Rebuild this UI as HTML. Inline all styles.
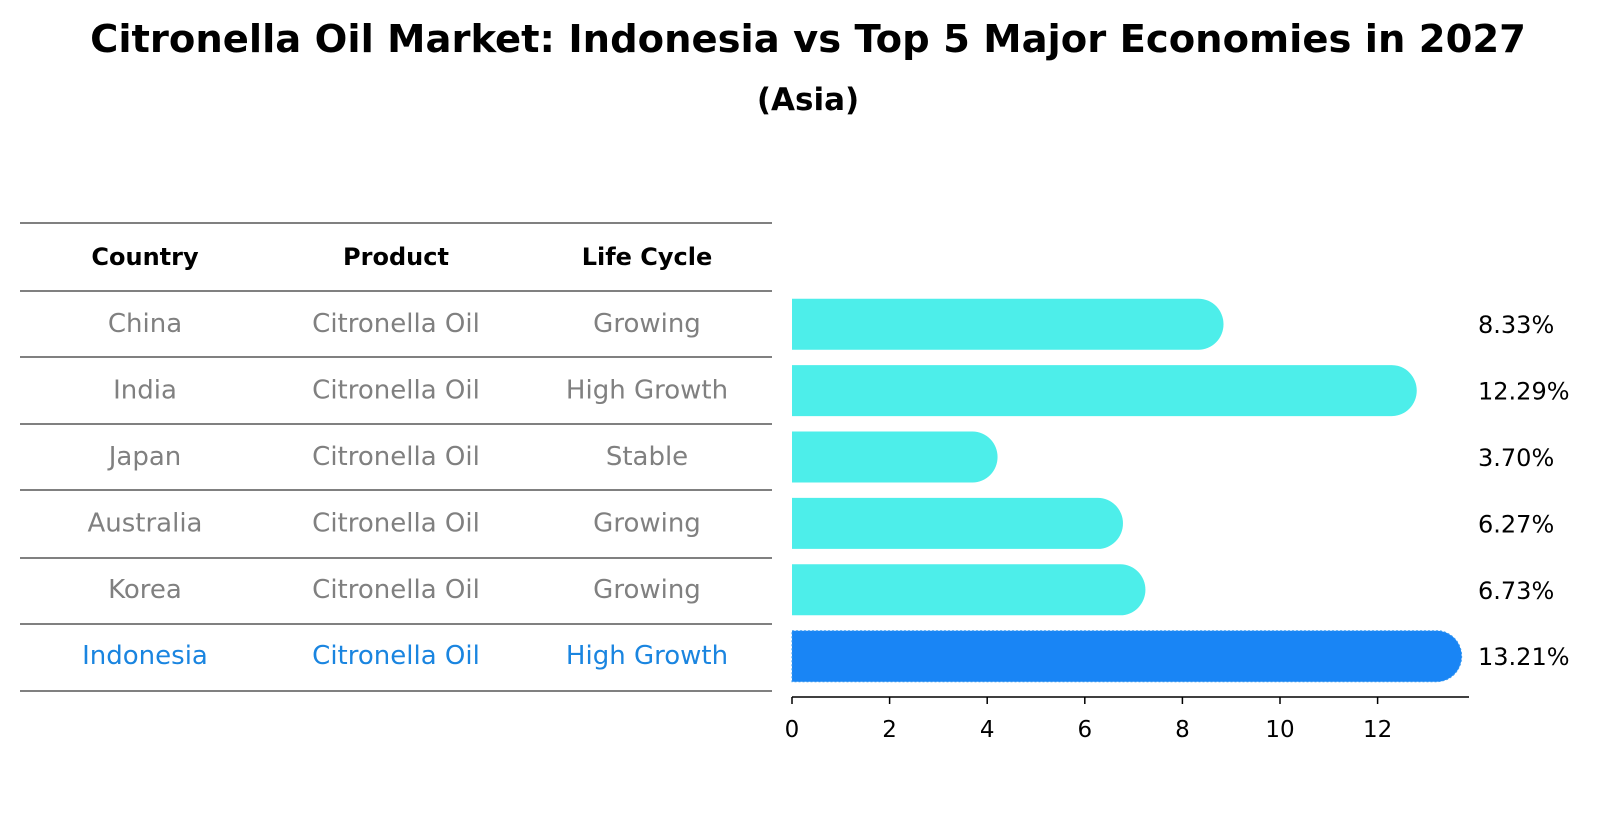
<!DOCTYPE html>
<html><head><meta charset="utf-8"><style>
body{margin:0;background:#fff;font-family:"Liberation Sans","DejaVu Sans",sans-serif;}
svg text{font-family:"DejaVu Sans","Liberation Sans",sans-serif;}
</style></head><body>
<svg id="chart" width="1604" height="823" xmlns="http://www.w3.org/2000/svg">
<text x="808" y="52" text-anchor="middle" font-size="38.5" font-weight="bold">Citronella Oil Market: Indonesia vs Top 5 Major Economies in 2027</text>
<text x="808" y="110" text-anchor="middle" font-size="31" font-weight="bold">(Asia)</text>
<g id="table"></g>
<g id="bars"></g>
</svg>
<script>
const countries=["China","India","Japan","Australia","Korea","Indonesia"];
const products=["Citronella Oil","Citronella Oil","Citronella Oil","Citronella Oil","Citronella Oil","Citronella Oil"];
const lifeCycles=["Growing","High Growth","Stable","Growing","Growing","High Growth"];
const values=[8.33,12.29,3.70,6.27,6.73,13.21];
const ticks=[0,2,4,6,8,10,12];
const NS="http://www.w3.org/2000/svg";
function mk(tag,attrs,parent){const e=document.createElementNS(NS,tag);for(const k in attrs)e.setAttribute(k,attrs[k]);parent.appendChild(e);return e;}
const table=document.getElementById('table');
const bars=document.getElementById('bars');
const lineYs=[223,291,357,424,490,558,624,691];
const colX=[145,396,647];
const rowH=66.4;
const rowY=i=>291+rowH*i+rowH/2;
lineYs.forEach((y,i)=>{const l=mk('line',{x1:20,x2:772,y1:y,y2:y,stroke:'#000','stroke-width':1},table);

});
["Country","Product","Life Cycle"].forEach((h,j)=>{const t=mk('text',{x:colX[j],y:265,'text-anchor':'middle','font-size':24,'font-weight':'bold'},table);t.textContent=h;

});
countries.forEach((c,i)=>{const col=i===countries.length-1?'#1a85e0':'#808080';
[c,products[i],lifeCycles[i]].forEach((v,j)=>{const t=mk('text',{x:colX[j],y:rowY(i)+8,'text-anchor':'middle','font-size':26,fill:col},table);t.textContent=v;

});});
const x0=792,pxPer=48.8;
const xs=v=>x0+v*pxPer;
const barH=51,r=25;
values.forEach((v,i)=>{const cy=rowY(i);const last=i===values.length-1;
const w=xs(v)-x0;const col=last?'#1985f5':'#4deeea';
const p=mk('path',{d:`M${x0},${cy-barH/2} H${x0+w} A${r},${barH/2} 0 0 1 ${x0+w},${cy+barH/2} H${x0} Z`,fill:col},bars);
if(last){p.setAttribute('stroke','#3a9af0');p.setAttribute('stroke-dasharray','2,2');}


const t=mk('text',{x:1478,y:cy+9,'font-size':24},bars);t.textContent=v.toFixed(2)+'%';

});
const ax=mk('line',{x1:x0,x2:1469,y1:697,y2:697,stroke:'#000','stroke-width':1.5},bars);


ticks.forEach(tk=>{const l=mk('line',{x1:xs(tk),x2:xs(tk),y1:697,y2:704,stroke:'#000','stroke-width':1.5},bars);


const t=mk('text',{x:xs(tk),y:737,'text-anchor':'middle','font-size':23},bars);t.textContent=tk;

});
</script>
</body></html>
